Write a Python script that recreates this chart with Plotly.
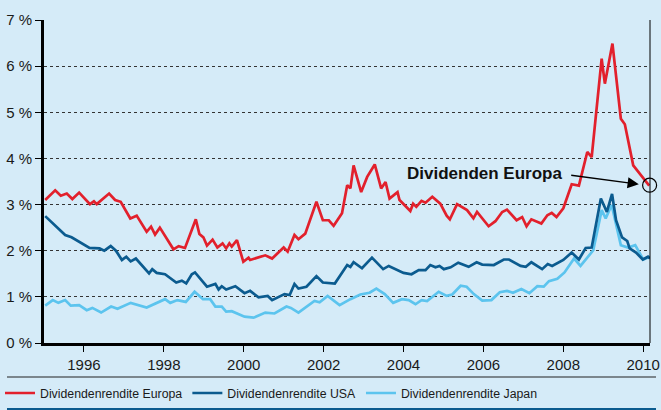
import plotly.graph_objects as go

# ---------------- data ----------------
eu_x = [1995.03, 1995.28, 1995.42, 1995.57, 1995.71, 1995.88, 1996.15, 1996.25, 1996.32, 1996.63,
        1996.78, 1996.92, 1997.16, 1997.32, 1997.57, 1997.68, 1997.78, 1997.90, 1998.24, 1998.37,
        1998.53, 1998.80, 1998.89, 1998.99, 1999.08, 1999.22, 1999.34, 1999.47, 1999.56, 1999.64,
        1999.70, 1999.83, 1999.99, 2000.12, 2000.16, 2000.54, 2000.71, 2001.00, 2001.10, 2001.27,
        2001.37, 2001.54, 2001.82, 2001.98, 2002.13, 2002.25, 2002.46, 2002.59, 2002.67, 2002.75,
        2002.94, 2003.09, 2003.28, 2003.44, 2003.55, 2003.65, 2003.85, 2003.90, 2004.17, 2004.24,
        2004.32, 2004.45, 2004.55, 2004.72, 2004.92, 2005.08, 2005.16, 2005.34, 2005.59, 2005.75,
        2005.84, 2006.13, 2006.30, 2006.47, 2006.59, 2006.83, 2006.97, 2007.08, 2007.20, 2007.45,
        2007.60, 2007.71, 2007.83, 2008.00, 2008.21, 2008.39, 2008.60, 2008.71, 2008.96, 2009.04,
        2009.23, 2009.44, 2009.54, 2009.64, 2009.75, 2010.15]
eu_y = [3.10, 3.31, 3.19, 3.24, 3.12, 3.26, 3.01, 3.07, 3.01, 3.24,
        3.10, 3.06, 2.70, 2.76, 2.41, 2.52, 2.35, 2.50, 2.03, 2.10,
        2.06, 2.68, 2.36, 2.29, 2.11, 2.24, 2.07, 2.16, 2.05, 2.16,
        2.09, 2.23, 1.76, 1.85, 1.80, 1.90, 1.83, 2.07, 1.98, 2.34,
        2.25, 2.37, 3.06, 2.66, 2.66, 2.54, 2.81, 3.42, 3.35, 3.85,
        3.27, 3.60, 3.87, 3.35, 3.49, 3.13, 3.27, 3.10, 2.86, 3.02,
        2.95, 3.08, 3.04, 3.17, 3.02, 2.76, 2.68, 3.01, 2.88, 2.70,
        2.84, 2.53, 2.64, 2.84, 2.89, 2.66, 2.73, 2.53, 2.68, 2.59,
        2.77, 2.82, 2.73, 2.92, 3.44, 3.41, 4.14, 4.03, 6.16, 5.62,
        6.49, 4.86, 4.74, 4.29, 3.85, 3.41]

us_x = [1995.03, 1995.53, 1995.69, 1996.14, 1996.39, 1996.51, 1996.67, 1996.80, 1996.95, 1997.06,
        1997.17, 1997.30, 1997.63, 1997.71, 1997.82, 1998.03, 1998.31, 1998.45, 1998.56, 1998.70,
        1998.78, 1998.89, 1999.08, 1999.29, 1999.37, 1999.45, 1999.56, 1999.79, 2000.02, 2000.16,
        2000.37, 2000.60, 2000.71, 2001.02, 2001.15, 2001.27, 2001.37, 2001.57, 2001.82, 2001.98,
        2002.28, 2002.59, 2002.67, 2002.75, 2002.96, 2003.21, 2003.49, 2003.63, 2004.00, 2004.20,
        2004.38, 2004.55, 2004.67, 2004.80, 2004.90, 2005.01, 2005.18, 2005.37, 2005.63, 2005.83,
        2005.97, 2006.26, 2006.51, 2006.64, 2006.93, 2007.06, 2007.20, 2007.47, 2007.61, 2007.72,
        2008.00, 2008.21, 2008.39, 2008.56, 2008.71, 2008.94, 2009.09, 2009.22, 2009.32, 2009.47,
        2009.60, 2009.66, 2009.82, 2009.99, 2010.12, 2010.17]
us_y = [2.75, 2.34, 2.29, 2.06, 2.05, 2.00, 2.10, 2.00, 1.80, 1.87,
        1.77, 1.83, 1.51, 1.60, 1.52, 1.49, 1.31, 1.35, 1.29, 1.49,
        1.53, 1.42, 1.22, 1.28, 1.16, 1.23, 1.16, 1.23, 1.08, 1.13,
        0.99, 1.02, 0.93, 1.06, 1.04, 1.28, 1.18, 1.22, 1.45, 1.31,
        1.29, 1.69, 1.65, 1.75, 1.62, 1.85, 1.60, 1.67, 1.52, 1.49,
        1.58, 1.58, 1.69, 1.64, 1.67, 1.60, 1.64, 1.74, 1.65, 1.75,
        1.70, 1.69, 1.81, 1.81, 1.67, 1.65, 1.75, 1.60, 1.71, 1.67,
        1.80, 1.96, 1.81, 2.06, 2.07, 3.13, 2.84, 3.23, 2.66, 2.29,
        2.21, 2.05, 1.96, 1.81, 1.87, 1.83]

jp_x = [1995.03, 1995.22, 1995.36, 1995.53, 1995.67, 1995.88, 1996.07, 1996.21, 1996.43, 1996.68,
        1996.84, 1997.17, 1997.57, 1998.03, 1998.16, 1998.34, 1998.55, 1998.77, 1998.98, 1999.16,
        1999.29, 1999.45, 1999.56, 1999.70, 2000.02, 2000.25, 2000.54, 2000.77, 2001.07, 2001.18,
        2001.37, 2001.58, 2001.77, 2001.90, 2002.10, 2002.40, 2002.67, 2002.92, 2003.15, 2003.32,
        2003.53, 2003.74, 2003.96, 2004.13, 2004.30, 2004.45, 2004.59, 2004.88, 2005.08, 2005.22,
        2005.43, 2005.58, 2005.76, 2005.97, 2006.20, 2006.41, 2006.59, 2006.74, 2006.95, 2007.15,
        2007.35, 2007.51, 2007.64, 2007.85, 2008.03, 2008.27, 2008.43, 2008.75, 2008.96, 2009.06,
        2009.21, 2009.44, 2009.62, 2009.80, 2010.00, 2010.17]
jp_y = [0.81, 0.93, 0.87, 0.93, 0.81, 0.82, 0.71, 0.76, 0.66, 0.79,
        0.74, 0.87, 0.77, 0.95, 0.87, 0.93, 0.89, 1.11, 0.95, 0.95,
        0.79, 0.79, 0.68, 0.69, 0.57, 0.55, 0.66, 0.64, 0.79, 0.76,
        0.66, 0.79, 0.91, 0.88, 1.02, 0.82, 0.95, 1.05, 1.09, 1.18,
        1.06, 0.87, 0.95, 0.93, 0.84, 0.93, 0.91, 1.11, 1.02, 1.05,
        1.24, 1.22, 1.06, 0.92, 0.93, 1.10, 1.13, 1.09, 1.17, 1.08,
        1.23, 1.22, 1.34, 1.39, 1.53, 1.83, 1.67, 2.01, 2.88, 2.70,
        2.99, 2.12, 2.07, 2.12, 1.81, 1.87]

series_names = ["Dividendenrendite Europa", "Dividendenrendite USA", "Dividendenrendite Japan"]
year_ticks = [1996, 1998, 2000, 2002, 2004, 2006, 2008, 2010]
year_labels = [str(v) for v in year_ticks]
pct_ticks = [0, 1, 2, 3, 4, 5, 6, 7]
pct_labels = [f"{v} %" for v in pct_ticks]
x_range = [1995.0, 2010.17]
y_range = [0, 7]

annot_text = "Dividenden Europa"
annot_tip = (2009.89, 3.44)
annot_tail = (2008.16, 3.64)
circle_pt = (2010.16, 3.42)

# ---------------- styles ----------------
BG = "#d5ebf8"
RED = "#e2202c"
DBLUE = "#0b5b8f"
LBLUE = "#5cc4ee"
FONT = "Liberation Sans, Arial, sans-serif"

fig = go.Figure()
fig.add_trace(go.Scatter(x=jp_x, y=jp_y, mode="lines", name=series_names[2], legendrank=3,
                         line=dict(color=LBLUE, width=2.7)))
fig.add_trace(go.Scatter(x=us_x, y=us_y, mode="lines", name=series_names[1], legendrank=2,
                         line=dict(color=DBLUE, width=2.7)))
fig.add_trace(go.Scatter(x=eu_x, y=eu_y, mode="lines", name=series_names[0], legendrank=1,
                         line=dict(color=RED, width=2.7)))

fig.update_layout(
    width=661, height=410,
    margin=dict(l=44, r=11, t=20, b=67, autoexpand=False),
    paper_bgcolor=BG, plot_bgcolor=BG,
    font=dict(family=FONT, size=15, color="#1a1a1a"),
    showlegend=True,
    legend=dict(orientation="h", xref="container", x=0, xanchor="left",
                yref="container", y=17 / 410, yanchor="middle",
                font=dict(size=12.3), bgcolor="rgba(0,0,0,0)", itemwidth=30,
                traceorder="normal"),
    hovermode=False,
)
fig.update_xaxes(range=x_range, tickvals=year_ticks, ticktext=year_labels,
                 showgrid=False, zeroline=False, showline=True, linecolor="black", linewidth=3,
                 ticks="outside", ticklen=6, tickwidth=1, tickcolor="black",
                 tickfont=dict(size=15))
fig.update_yaxes(range=y_range, tickvals=pct_ticks, ticktext=pct_labels,
                 showgrid=True, gridcolor="#333333", gridwidth=1, griddash="3px,3px",
                 zeroline=False, showline=True, linecolor="black", linewidth=3,
                 ticks="outside", ticklen=6, tickwidth=1, tickcolor="black",
                 tickfont=dict(size=15))

# right border
fig.add_shape(type="line", xref="paper", yref="paper", x0=1, x1=1, y0=0, y1=1,
              line=dict(color="black", width=1))
# separator lines below axis (pixel positions converted to paper units)
plot_w = 661 - 44 - 11
plot_h = 410 - 20 - 67
sep_x0 = (7 - 44) / plot_w
sep_x1 = (656 - 44) / plot_w
fig.add_shape(type="line", xref="paper", yref="paper", x0=sep_x0, x1=sep_x1,
              y0=(343 - 377) / plot_h, y1=(343 - 377) / plot_h,
              line=dict(color="#222222", width=1.2))
fig.add_shape(type="line", xref="paper", yref="paper", x0=sep_x0, x1=sep_x1,
              y0=(343 - 409) / plot_h, y1=(343 - 409) / plot_h,
              line=dict(color=DBLUE, width=2))

# annotation text + arrow
fig.add_annotation(x=annot_tail[0], y=annot_tail[1], xref="x", yref="y", text=f"<b>{annot_text}</b>",
                   showarrow=False, xanchor="right", yanchor="middle", xshift=-6, yshift=2,
                   font=dict(size=17, color="#111111"))
fig.add_annotation(x=annot_tip[0], y=annot_tip[1], xref="x", yref="y",
                   ax=annot_tail[0], ay=annot_tail[1], axref="x", ayref="y", text="",
                   showarrow=True, arrowhead=2, arrowsize=1.6, arrowwidth=1.4, arrowcolor="black")
# circle marker at end of Europe line
cx = (circle_pt[0] - x_range[0]) / (x_range[1] - x_range[0])
cy = (circle_pt[1] - y_range[0]) / (y_range[1] - y_range[0])
fig.add_shape(type="circle", xref="paper", yref="paper", xsizemode="pixel", ysizemode="pixel",
              xanchor=cx, yanchor=cy, x0=-7, x1=7, y0=-7, y1=7,
              line=dict(color="black", width=1.2))

fig.write_html("out.html", config={"displayModeBar": False},
               post_script="document.body.style.margin='0';document.body.style.background='" + BG + "';")
